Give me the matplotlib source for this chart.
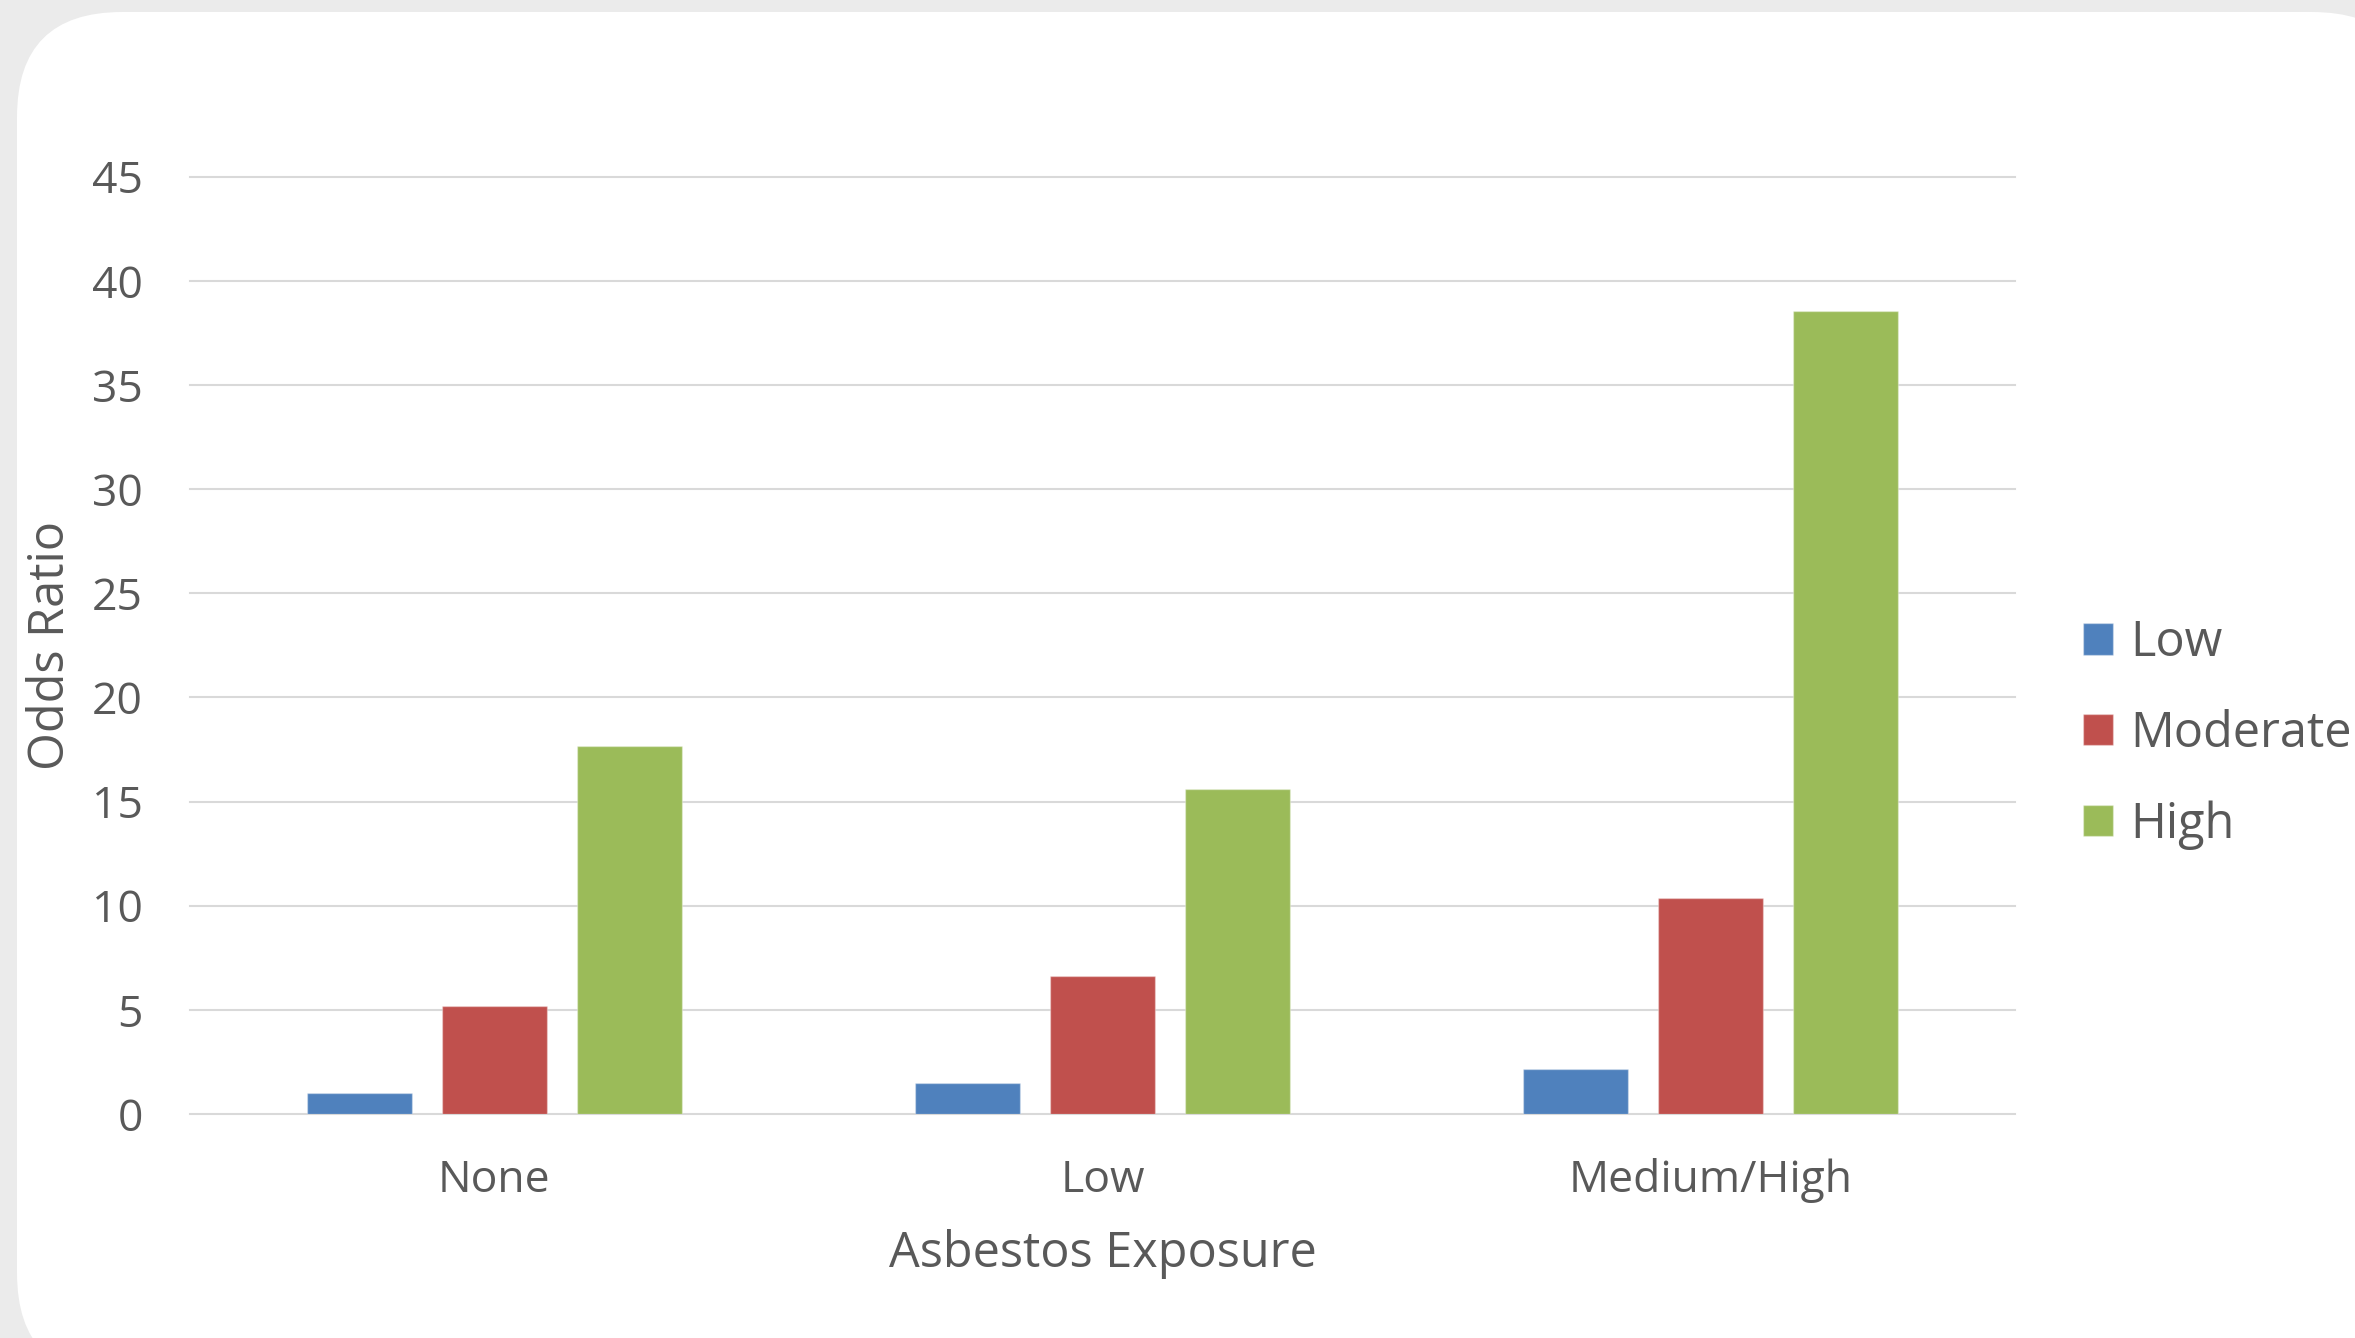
import matplotlib.pyplot as plt
import numpy as np
from matplotlib.patches import FancyBboxPatch

# Odds ratios by asbestos exposure group and smoking level
exposure = ["None", "Low", "Medium/High"]
smoking_levels = ["Low", "Moderate", "High"]
odds_low = [1.0, 1.47, 2.16]
odds_moderate = [5.2, 6.62, 10.36]
odds_high = [17.66, 15.6, 38.57]

colors = ["#4F81BD", "#C0504D", "#9BBB59"]
text_color = "#595959"

plt.rcParams["font.family"] = ["Open Sans", "DejaVu Sans"]

fig = plt.figure(figsize=(23.55, 13.38), dpi=100)
fig.patch.set_facecolor("#ebebeb")

# white card with rounded corners behind the chart
card = FancyBboxPatch((0.17, -0.4), 24.0, 13.26 + 0.4,
                      boxstyle="round,pad=0,rounding_size=1.05",
                      transform=fig.dpi_scale_trans,
                      facecolor="white", edgecolor="none", zorder=-5)
fig.patches.append(card)

ax = fig.add_axes([0.0807, 0.1674, 0.7749, 0.7005])
ax.set_facecolor("none")

x = np.arange(len(exposure))
width = 0.173
step = 0.222
series = [odds_low, odds_moderate, odds_high]
for i, (vals, c, name) in enumerate(zip(series, colors, smoking_levels)):
    ax.bar(x + (i - 1) * step, vals, width, color=c, label=name,
           edgecolor=(1, 1, 1, 0.35), linewidth=1.0, zorder=3)

ax.set_xlim(-0.5, 2.5)
ax.set_ylim(0, 45)
ax.set_yticks(range(0, 46, 5))
ax.set_xticks(x)
ax.set_xticklabels(exposure)

ax.grid(axis="y", color="#d9d9d9", linewidth=1.5, zorder=0)
for line in ax.get_ygridlines():
    line.set_clip_on(False)
ax.set_axisbelow(True)
for s in ax.spines.values():
    s.set_visible(False)

ax.tick_params(axis="both", length=0, labelsize=32, colors=text_color)
ax.tick_params(axis="y", pad=34)
ax.tick_params(axis="x", pad=32)

ax.set_xlabel("Asbestos Exposure", fontsize=35, color=text_color,
              va="center", ha="center")
ax.xaxis.set_label_coords(0.5, -0.149)
ax.set_ylabel("Odds Ratio", fontsize=35, color=text_color,
              va="center", ha="center")
ax.yaxis.set_label_coords(-0.076, 0.5)

leg = ax.legend(loc="center left", bbox_to_anchor=(2083 / 2355, 1 - 734 / 1338),
                bbox_transform=fig.transFigure, frameon=False, fontsize=35,
                handlelength=0.62, handleheight=0.62, handletextpad=0.35,
                labelspacing=0.85, borderpad=0, borderaxespad=0)
for t in leg.get_texts():
    t.set_color(text_color)

fig.savefig("out.png", dpi=100, facecolor=fig.get_facecolor())
